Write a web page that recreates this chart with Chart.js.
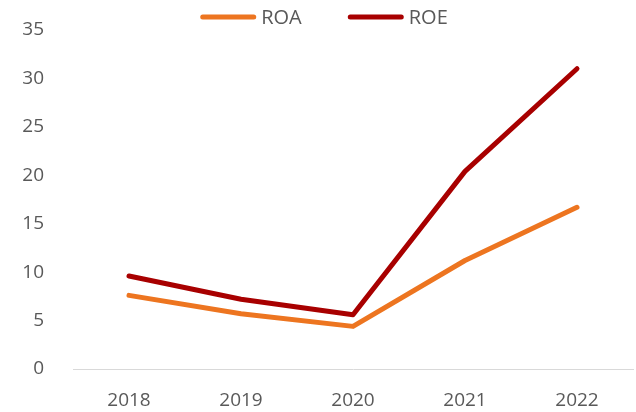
<!DOCTYPE html>
<html>
<head>
<meta charset="utf-8">
<script src="https://cdn.jsdelivr.net/npm/chart.js@4.4.1/dist/chart.umd.min.js"></script>
<style>
    html, body { margin: 0; padding: 0; background: #fff; }
    .chart-box { width: 636px; height: 412px; }
</style>
</head>
<body>
<div class="chart-box"><canvas id="chart" width="636" height="412"></canvas></div>
<script>
    // chart data
    const years = ['2018', '2019', '2020', '2021', '2022'];
    const roa = [7.6, 5.7, 4.4, 11.2, 16.7];
    const roe = [9.6, 7.2, 5.6, 20.4, 31.0];
    const seriesNames = ['ROA', 'ROE'];
    const seriesColors = ['#ED7520', '#A80000'];

    const textColor = '#595959';
    const fontFamily = '"Open Sans", sans-serif';

    // simple legend drawn at the top, line sample + label
    const topLegend = {
        id: 'topLegend',
        afterDraw(chart) {
            const ctx = chart.ctx;
            const lineLen = 56, gapText = 5, gapItem = 46;
            ctx.save();
            ctx.font = '20px ' + fontFamily;
            const widths = chart.data.datasets.map(ds => ctx.measureText(ds.label).width);
            let total = 0;
            widths.forEach((w, i) => { total += lineLen + gapText + w + (i ? gapItem : 0); });
            let x = (chart.width - total) / 2 + 6;
            const y = 17;
            chart.data.datasets.forEach((ds, i) => {
                ctx.strokeStyle = ds.borderColor;
                ctx.lineWidth = 5;
                ctx.lineCap = 'round';
                ctx.beginPath();
                ctx.moveTo(x + 2.5, y);
                ctx.lineTo(x + lineLen - 2.5, y);
                ctx.stroke();
                ctx.fillStyle = textColor;
                ctx.textBaseline = 'middle';
                ctx.textAlign = 'left';
                ctx.fillText(ds.label, x + lineLen + gapText, y + 1);
                x += lineLen + gapText + widths[i] + gapItem;
            });
            ctx.restore();
        }
    };

    new Chart(document.getElementById('chart'), {
        type: 'line',
        data: {
            labels: years,
            datasets: [roa, roe].map((values, i) => ({
                label: seriesNames[i],
                data: values,
                borderColor: seriesColors[i],
                backgroundColor: seriesColors[i],
                borderWidth: 5,
                borderCapStyle: 'round',
                borderJoinStyle: 'round',
                pointRadius: 0,
                tension: 0
            }))
        },
        options: {
            responsive: false,
            animation: false,
            layout: { padding: { top: 30, right: 3, bottom: 0, left: 0 } },
            plugins: {
                legend: { display: false },
                tooltip: { enabled: false }
            },
            scales: {
                x: {
                    offset: true,
                    afterFit: (scale) => { scale.height = 43; scale.paddingLeft = 0; scale.paddingRight = 0; },
                    grid: { display: false, drawTicks: false },
                    border: { display: true, color: '#D9D9D9', width: 1 },
                    ticks: { color: textColor, font: { family: fontFamily, size: 19 }, padding: 20 }
                },
                y: {
                    min: 0,
                    max: 35,
                    afterFit: (scale) => { scale.width = 73; scale.paddingTop = 0; scale.paddingBottom = 0; },
                    grid: { display: false, drawTicks: false },
                    border: { display: false },
                    ticks: { stepSize: 5, color: textColor, font: { family: fontFamily, size: 19 }, padding: 29 }
                }
            }
        },
        plugins: [topLegend]
    });
</script>
</body>
</html>
